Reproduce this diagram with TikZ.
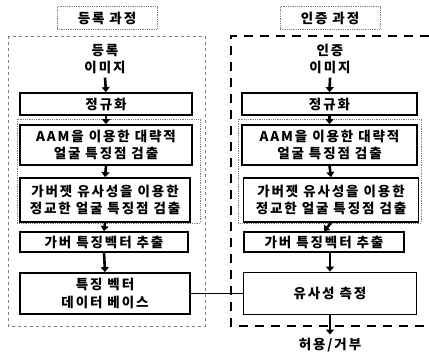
\documentclass[tikz,border=0pt]{standalone}
\usepackage{fontspec}
\setmainfont{Noto Sans CJK KR}[LetterSpace=14]
\usetikzlibrary{arrows.meta, positioning}

\begin{document}
\begin{tikzpicture}[x=1pt, y=-1pt,
  every node/.style={font=\fontsize{13.5}{17.5}\selectfont\bfseries, align=center},
  box/.style={draw, line width=1.8pt, inner sep=0pt},
  flow/.style={-{Triangle[length=5pt,width=8pt]}, line width=2.6pt}]
\useasboundingbox (0,0) rectangle (429,357);
% outer frames of the two processes
\draw[gray, dashed, line width=0.6pt] (8,36) rectangle (205,326);
\draw[line width=1.8pt, dash pattern=on 9pt off 7pt] (429,36) -- (231,36) -- (231,326) -- (429,326);
% dotted frames round the two detection steps
\draw[gray, densely dotted, line width=0.8pt] (17,119) rectangle (200,223);
\draw[gray, densely dotted, line width=0.8pt] (238,119) rectangle (421,223);
% titles
\node[draw=gray, densely dotted, line width=0.8pt, minimum width=100, minimum height=23] (titleL) at (107,18) {등록 과정};
\node[draw=gray, densely dotted, line width=0.8pt, minimum width=100, minimum height=23] (titleR) at (330,18) {인증 과정};
% enrolment column
\node (imgL) at (105,59) {등록\\이미지};
\node[box, minimum width=172, minimum height=22] (normL) at (106,104) {정규화};
\node[box, minimum width=172, minimum height=40] (aamL) at (106,145) {AAM을 이용한 대략적\\얼굴 특징점 검출};
\node[box, minimum width=170, minimum height=44] (gjL) at (105,200) {가버젯 유사성을 이용한\\정교한 얼굴 특징점 검출};
\node[box, minimum width=168, minimum height=20] (gfL) at (104,242) {가버 특징벡터 추출};
\node[box, minimum width=170, minimum height=41] (dbL) at (105,293.5) {특징 벡터\\데이터 베이스};
% verification column
\node (imgR) at (330,59) {인증\\이미지};
\node[box, minimum width=175, minimum height=22] (normR) at (329.5,104) {정규화};
\node[box, minimum width=175, minimum height=40] (aamR) at (329.5,145) {AAM을 이용한 대략적\\얼굴 특징점 검출};
\node[box, minimum width=175, minimum height=44] (gjR) at (331,200) {가버젯 유사성을 이용한\\정교한 얼굴 특징점 검출};
\node[box, minimum width=160, minimum height=20] (gfR) at (324,242) {가버 특징벡터 추출};
\node[box, minimum width=173, minimum height=42] (simR) at (330,293.5) {유사성 측정};
\node (res) at (330,345) {허용/거부};
% arrows
\foreach \a/\b in {imgL/normL, normL/aamL, aamL/gjL, gjL/gfL, gfL/dbL,
                   imgR/normR, normR/aamR, aamR/gjR, gjR/gfR, simR/res} {
  \draw[flow] (\a.south) -- (\b.north);
}
\draw[flow] (gfR.south -| simR.north) -- (simR.north);
\draw[line width=1.8pt] (dbL.east) -- (simR.west);
\end{tikzpicture}
\end{document}
